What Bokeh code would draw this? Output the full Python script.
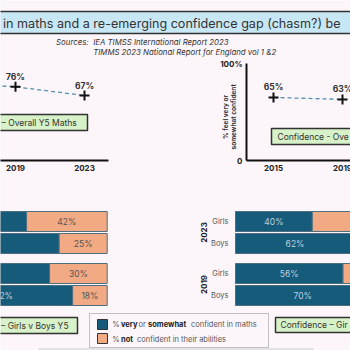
import math
from bokeh.plotting import figure
from bokeh.models import Range1d
from bokeh.core.properties import value
from bokeh.embed import file_html
from bokeh.resources import INLINE

# ---------------- data ----------------
title_text = "in maths and a re-emerging confidence gap (chasm?) be"
source_label = "Sources:"
source_lines = ["IEA TIMSS International Report 2023",
                "TIMMS 2023 National Report for England vol 1 &2"]

tick_years = [2015, 2019, 2023]
y5_years = [2015, 2019, 2023]
y5_overall = [80, 76, 67]
y9_years = [2015, 2019]
y9_overall = [65, 63]
y_ticks = [0, 100]
y_tick_labels = ["0", "100%"]
y_axis_title = ["% feel very or", "somewhat confident"]

bar_years = ["2023", "2023", "2019", "2019"]
bar_groups = ["Girls", "Boys", "Girls", "Boys"]
y5_conf = [58, 75, 70, 82]
y5_not = [42, 25, 30, 18]
y9_conf = [40, 62, 56, 70]
y9_not = [60, 38, 44, 30]

box_y5_line = "– Overall Y5 Maths"
box_y9_line = "Confidence - Ove"
box_y5_bar = "– Girls v Boys Y5"
box_y9_bar = "Confidence – Gir"
legend_conf = [("%", False), ("very", True), ("or", False), ("somewhat", True), ("confident in maths", False)]
legend_not = [("%", False), ("not", True), ("confident in their abilities", False)]

# ---------------- style / layout ----------------
W, H = 350, 350
BG = "#fcf6fb"
TEAL = "#175b7b"
SALMON = "#f2aa85"
GREEN = "#d7f1c8"
BANNER = "#c8e7f5"
DARK = "#222222"
GREY = "#555555"
FONT = value("Inter")

PX_PER_YEAR = 69 / 4
PX_PER_PCT_LINE = 0.97
LINE_BASE_PX = 160
PX_PER_PCT_BAR = 1.92

p = figure(width=W, height=H, x_range=Range1d(0, W), y_range=Range1d(H, 0),
           output_backend="svg", toolbar_location=None, min_border=0,
           x_axis_type=None, y_axis_type=None,
           background_fill_color=BG, border_fill_color=BG, outline_line_color=None)
p.grid.visible = False


def year_range(anchor_year, anchor_px):
    s = anchor_year - anchor_px / PX_PER_YEAR
    return Range1d(s, s + W / PX_PER_YEAR)


def bar_range(zero_px):
    s = -zero_px / PX_PER_PCT_BAR
    return Range1d(s, s + W / PX_PER_PCT_BAR)


p.extra_x_ranges = {
    "yr5": year_range(2019, 15),
    "yr9": year_range(2015, 273),
    "b5": bar_range(106.7 - 100 * PX_PER_PCT_BAR),
    "b9": bar_range(235),
}
p.extra_y_ranges = {
    "pct": Range1d(-(H - LINE_BASE_PX) / PX_PER_PCT_LINE, LINE_BASE_PX / PX_PER_PCT_LINE),
}


def to_px(rng, v):
    r = p.extra_x_ranges[rng] if rng != "default" else p.x_range
    return (v - r.start) / (r.end - r.start) * W


def add_text(xs, ys, texts, rng="default", x_offset=0, align="center", size=8.5,
             rotated=False, **kw):
    """Draw only labels that can reach the visible frame."""
    fx, fy, ft = [], [], []
    for x, y, t in zip(xs, ys, texts):
        px = to_px(rng, x) + x_offset
        w = 4 if rotated else len(t) * size * 0.55
        lo = px - (w if align == "right" else w / 2 if align == "center" else 0)
        if lo + w > 0 and lo < W:
            fx.append(x); fy.append(y); ft.append(t)
    if not ft:
        return
    extra = {} if rng == "default" else {"x_range_name": rng}
    p.text(x=fx, y=fy, text=ft, x_offset=x_offset, text_align=align,
           text_baseline="middle", text_font=FONT, text_font_size=f"{size}px",
           angle=math.pi / 2 if rotated else 0, **extra, **kw)


# ---------------- banner + sources ----------------
p.quad(left=-5, right=W + 5, top=11, bottom=33, fill_color=BANNER, line_color="#333333", line_width=1.5)
add_text([2.5], [22.5], [title_text], align="left", size=12.6, text_color="#333333")
add_text([88], [41.7], [source_label], align="right", size=7.8, text_font_style="italic",
         text_color="#333333")
add_text([92.7, 92.7], [41.7, 51.7], source_lines, align="left", size=7.8,
         text_font_style="italic", text_color="#333333")

# ---------------- line charts ----------------
AX_L = 27 / PX_PER_YEAR
AX_R = 24 / PX_PER_YEAR
for rng, yrs, vals in (("yr5", y5_years, y5_overall), ("yr9", y9_years, y9_overall)):
    first, last = tick_years[0], tick_years[-1]
    yax = first - AX_L
    p.segment(x0=[yax], y0=[0], x1=[last + AX_R], y1=[0], x_range_name=rng,
              y_range_name="pct", line_color="#111111", line_width=2)
    p.segment(x0=[yax], y0=[0], x1=[yax], y1=[100], x_range_name=rng,
              y_range_name="pct", line_color="#111111", line_width=2)
    add_text([yax] * len(y_ticks), y_ticks, y_tick_labels, rng=rng, x_offset=-4,
             align="right", size=8, y_range_name="pct", text_font_style="bold",
             text_color=DARK)
    add_text(tick_years, [0] * len(tick_years), [str(t) for t in tick_years], rng=rng,
             size=8, y_range_name="pct", y_offset=7.5, text_font_style="bold",
             text_color=DARK)
    for i, line in enumerate(y_axis_title):
        add_text([yax], [45], [line], rng=rng, x_offset=-20.5 + 7.5 * i, size=6.5,
                 rotated=True, y_range_name="pct", text_font_style="bold",
                 text_color="#333333")
    p.line(x=yrs, y=vals, x_range_name=rng, y_range_name="pct", line_color="#4f8fb0",
           line_width=1.3, line_dash="4 3")
    p.scatter(x=yrs, y=vals, x_range_name=rng, y_range_name="pct", marker="cross",
              size=10, line_width=2, line_color="#111111")
    add_text(yrs, vals, [f"{v}%" for v in vals], rng=rng, size=8.5, y_range_name="pct",
             y_offset=-10, text_font_style="bold", text_color="#333333")

# ---------------- bar charts ----------------
ROW0, ROW_STEP, GROUP_GAP, ROW_H = 221, 22, 8, 20
row_y = []
for i, yr in enumerate(bar_years):
    gap = sum(1 for j in range(1, i + 1) if bar_years[j] != bar_years[j - 1]) * GROUP_GAP
    row_y.append(ROW0 + i * ROW_STEP + gap)

group_centres = []
for yr in dict.fromkeys(bar_years):
    ys = [row_y[i] for i, b in enumerate(bar_years) if b == yr]
    group_centres.append((yr, sum(ys) / len(ys)))

for rng, conf, notc, inset in (("b5", y5_conf, y5_not, 36), ("b9", y9_conf, y9_not, None)):
    tot = [c + n for c, n in zip(conf, notc)]
    p.hbar(y=row_y, left=0, right=conf, height=ROW_H, x_range_name=rng,
           fill_color=TEAL, line_color="#4d6e80", line_width=1)
    p.hbar(y=row_y, left=conf, right=tot, height=ROW_H, x_range_name=rng,
           fill_color=SALMON, line_color="#4d6e80", line_width=1)
    add_text([c + n / 2 for c, n in zip(conf, notc)], row_y, [f"{n}%" for n in notc],
             rng=rng, size=8.5, text_color=GREY)
    tx = [c / 2 for c in conf] if inset is None else [c - inset for c in conf]
    add_text(tx, row_y, [f"{c}%" for c in conf], rng=rng, size=8.5, text_color="#b9d2de")
    add_text([0] * len(row_y), row_y, bar_groups, rng=rng, x_offset=-7, align="right",
             size=7.5, text_color=GREY)
    add_text([0] * len(group_centres), [c for _, c in group_centres],
             [y for y, _ in group_centres], rng=rng, x_offset=-32, size=8, rotated=True,
             text_font_style="bold", text_color=DARK)

# ---------------- caption boxes ----------------
p.quad(left=[-5, 271, -5, 275], right=[87, W + 5, 77, W + 5], top=[114, 128, 317, 317],
       bottom=[130, 144, 333, 332], fill_color=GREEN, line_color="#333333", line_width=1.5)
add_text([1, 0.5], [122, 325], [box_y5_line, box_y5_bar], align="left", size=8.5,
         text_color="#333333")
add_text([277, 280], [136, 324.5], [box_y9_line, box_y9_bar], align="left", size=8.5,
         text_color="#333333")

# ---------------- legend ----------------
p.quad(left=89, right=268, top=313, bottom=347, fill_color=None, line_color="#8a8a8a",
       line_width=1, line_dash="1 1")
p.quad(left=[97, 97], right=[107, 107], top=[319, 333], bottom=[329, 343],
       fill_color=[TEAL, SALMON], line_color="#333333", line_width=1)
leg_x1 = [111.7, 120.5, 138, 147.5, 190.5]
leg_x2 = [111.7, 120.5, 136.5]
for xs, segs, yy in ((leg_x1, legend_conf, 324), (leg_x2, legend_not, 338.5)):
    for x, (t, b) in zip(xs, segs):
        add_text([x], [yy], [t], align="left", size=7.5,
                 text_font_style="bold" if b else "normal",
                 text_color="#222222" if b else GREY)

# bottom strip
p.quad(left=38, right=313, top=347.5, bottom=351, fill_color="#e4e1e4", line_color=None)

open("out.html", "w").write(file_html(p, INLINE))
